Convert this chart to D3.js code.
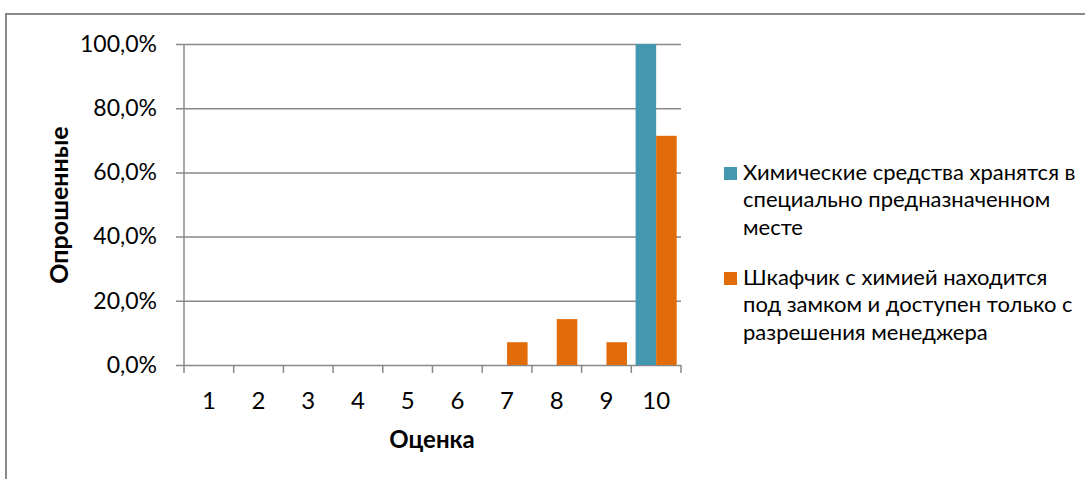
<!DOCTYPE html>
<html>
<head>
<meta charset="utf-8">
<script src="https://cdn.jsdelivr.net/npm/d3@7"></script>
<style>
  html, body { margin: 0; padding: 0; background: #fff; }
  svg { display: block; }
  text { font-family: Lato, "Liberation Sans", sans-serif; fill: #000; }
</style>
</head>
<body>
<svg id="chart" width="1085" height="479"></svg>
<script>
// Survey scores (1–10) and share of respondents for each statement
const categories = ["1", "2", "3", "4", "5", "6", "7", "8", "9", "10"];
const seriesNames = [
  "Химические средства хранятся в специально предназначенном месте",
  "Шкафчик с химией находится под замком и доступен только с разрешения менеджера"
];
const storedValues = [0, 0, 0, 0, 0, 0, 0, 0, 0, 1.0];
const lockedValues = [0, 0, 0, 0, 0, 0, 0.071, 0.143, 0.071, 0.714];
const yTicks = [0, 0.2, 0.4, 0.6, 0.8, 1.0];
const legendLines = [
  ["Химические средства хранятся в", "специально предназначенном", "месте"],
  ["Шкафчик с химией находится", "под замком и доступен только с", "разрешения менеджера"]
];
const colors = ["#4398b0", "#e36c0a"];

const svg = d3.select("#chart");
const plot = { left: 184, right: 681, top: 44, bottom: 365 };
const gridColor = "#888888";

// chart frame
svg.append("path")
  .attr("d", "M6,1085 V14 H1085")
  .attr("fill", "none")
  .attr("stroke", gridColor)
  .attr("stroke-width", 2);

const x = d3.scaleBand().domain(categories).range([plot.left, plot.right]).padding(0);
const xSub = d3.scaleBand().domain([0, 1]).range([0, x.bandwidth()]).paddingInner(0).paddingOuter(0.21);
const y = d3.scaleLinear().domain([0, 1]).range([plot.bottom, plot.top]);

const fmt = v => d3.format(".1f")(v * 100).replace(".", ",") + "%";

// horizontal gridlines with left tick stubs
const span = plot.right - plot.left + 8;
const yAxis = d3.axisLeft(y).tickValues(yTicks).tickFormat(fmt).tickSize(span);
const gy = svg.append("g").attr("transform", `translate(${plot.right},0)`)
  .call(yAxis);
gy.select(".domain").remove();
gy.selectAll(".tick line").attr("stroke", gridColor).attr("stroke-width", 1.5);
gy.selectAll(".tick text")
  .attr("x", -span - 19)
  .style("font-size", "23px").style("font-family", "Lato, sans-serif").attr("fill", "#000");

// vertical axis line
svg.append("line")
  .attr("x1", plot.left).attr("x2", plot.left)
  .attr("y1", plot.top).attr("y2", plot.bottom)
  .attr("stroke", gridColor).attr("stroke-width", 1.5);

// category boundary ticks
const bounds = categories.map(c => x(c)).concat([plot.right]);
svg.append("g").selectAll("line").data(bounds).join("line")
  .attr("x1", d => d).attr("x2", d => d)
  .attr("y1", plot.bottom).attr("y2", plot.bottom + 8)
  .attr("stroke", gridColor).attr("stroke-width", 1.5);

// bars
const series = [storedValues, lockedValues];
series.forEach((vals, si) => {
  svg.append("g").selectAll("rect")
    .data(categories.map((c, i) => ({ c, v: vals[i] })).filter(d => d.v > 0))
    .join("rect")
    .attr("x", d => x(d.c) + xSub(si))
    .attr("width", xSub.bandwidth())
    .attr("y", d => y(d.v))
    .attr("height", d => y(0) - y(d.v))
    .attr("fill", colors[si]);
});

// x-axis category labels
svg.append("g").selectAll("text").data(categories).join("text")
  .attr("x", d => x(d) + x.bandwidth() / 2)
  .attr("y", 409)
  .attr("text-anchor", "middle")
  .style("font-size", "24px")
  .text(d => d);

// axis titles
svg.append("text")
  .attr("x", 432).attr("y", 448)
  .attr("text-anchor", "middle")
  .style("font-size", "24px").style("font-weight", "bold")
  .text("Оценка");
svg.append("text")
  .attr("transform", "translate(68,205) rotate(-90)")
  .attr("text-anchor", "middle")
  .style("font-size", "25px").style("font-weight", "bold")
  .text("Опрошенные");

// legend
const legendBaselines = [180, 285];
legendLines.forEach((lines, si) => {
  const g = svg.append("g").attr("transform", `translate(724,${legendBaselines[si]})`);
  g.append("rect").attr("y", -13).attr("width", 13).attr("height", 13).attr("fill", colors[si]);
  g.append("text")
    .style("font-size", "22px")
    .selectAll("tspan").data(lines).join("tspan")
    .attr("x", 19)
    .attr("y", (d, i) => i * 27.3)
    .text(d => d);
});
</script>
</body>
</html>
